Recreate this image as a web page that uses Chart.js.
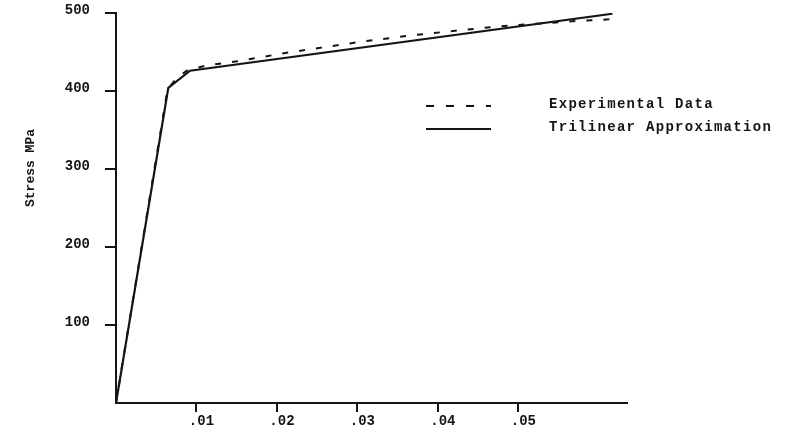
<!DOCTYPE html>
<html lang="en">
<head>
    <meta charset="UTF-8">
    <title>Stress-Strain</title>
    <script src="https://cdn.jsdelivr.net/npm/chart.js"></script>
    <style>
        body {
            margin: 0;
            background-color: #ffffff;
            overflow: hidden;
        }

        canvas {
            display: block;
        }
    </style>
</head>
<body>
    <canvas id="stressChart" width="794" height="429"></canvas>

    <script>
        // values
        const strainExp = [0, 0.0064, 0.0075, 0.0088, 0.0113, 0.015, 0.0212, 0.0303, 0.0365, 0.0419, 0.0477, 0.0576, 0.0616];
        const stressExp = [0, 402, 416, 426, 433, 438, 449, 463, 471, 477, 483, 490, 492];
        const strainTri = [0, 0.0065, 0.0092, 0.0617];
        const stressTri = [0, 404, 426, 499];

        const xTicks = [0.01, 0.02, 0.03, 0.04, 0.05];
        const xTickLabels = ['.01', '.02', '.03', '.04', '.05'];
        const yTicks = [100, 200, 300, 400, 500];
        const yTitle = 'Stress MPa';

        const ink = '#151515';
        const monoFont = { family: '"Liberation Mono", "DejaVu Sans Mono", monospace', size: 14, weight: 'bold' };

        const toPoints = (xs, ys) => xs.map((x, i) => ({ x: x, y: ys[i] }));

        // legend drawn inside the plot, to the right of the curves
        const insideLegend = {
            id: 'insideLegend',
            afterDraw(chart) {
                const ctx = chart.ctx;
                const rows = [104, 127];
                ctx.save();
                chart.data.datasets.forEach((ds, i) => {
                    const y = rows[i];
                    ctx.strokeStyle = ds.borderColor;
                    ctx.lineWidth = 2;
                    ctx.setLineDash(ds.borderDash ? [8, 12] : []);
                    ctx.beginPath();
                    ctx.moveTo(426, y + 2);
                    ctx.lineTo(491, y + 2);
                    ctx.stroke();
                    ctx.setLineDash([]);
                    ctx.fillStyle = ink;
                    ctx.font = 'bold 14px "Liberation Mono", monospace';
                    ctx.letterSpacing = '1.3px';
                    ctx.textAlign = 'left';
                    ctx.textBaseline = 'middle';
                    ctx.fillText(ds.label, 549, y);
                });
                ctx.restore();
            }
        };

        // vertical axis title, sits higher than the axis middle in the original
        const axisTitle = {
            id: 'axisTitle',
            afterDraw(chart) {
                const ctx = chart.ctx;
                ctx.save();
                ctx.translate(31, 168);
                ctx.rotate(-Math.PI / 2);
                ctx.fillStyle = ink;
                ctx.font = 'bold 13px "Liberation Mono", monospace';
                ctx.textAlign = 'center';
                ctx.textBaseline = 'middle';
                ctx.fillText(yTitle, 0, 0);
                ctx.restore();
            }
        };

        const stressCtx = document.getElementById('stressChart').getContext('2d');

        const stressChart = new Chart(stressCtx, {
            type: 'line',
            data: {
                datasets: [
                    {
                        label: 'Experimental Data',
                        data: toPoints(strainExp, stressExp),
                        borderColor: ink,
                        borderWidth: 2,
                        borderDash: [6, 11],
                        pointRadius: 0,
                        fill: false,
                    },
                    {
                        label: 'Trilinear Approximation',
                        data: toPoints(strainTri, stressTri),
                        borderColor: ink,
                        borderWidth: 2.2,
                        pointRadius: 0,
                        fill: false,
                    },
                ],
            },
            options: {
                responsive: false,
                animation: false,
                layout: { padding: { left: 0, top: 13, right: 167, bottom: 0 } },
                scales: {
                    x: {
                        type: 'linear',
                        min: 0,
                        max: 0.0635,
                        border: { display: true, color: ink, width: 2 },
                        grid: { drawOnChartArea: false, drawTicks: true, tickLength: 9, color: ink, lineWidth: 2 },
                        afterBuildTicks: (scale) => { scale.ticks = xTicks.map(v => ({ value: v })); },
                        afterFit: (scale) => {
                            scale.height = 26;
                            scale.paddingLeft = 0;
                            scale.paddingRight = 0;
                        },
                        ticks: {
                            color: ink,
                            font: monoFont,
                            padding: 1,
                            labelOffset: 5,
                            maxRotation: 0,
                            callback: (value, index) => xTickLabels[index],
                        },
                    },
                    y: {
                        type: 'linear',
                        min: 0,
                        max: 500,
                        border: { display: true, color: ink, width: 2 },
                        grid: { drawOnChartArea: false, drawTicks: true, tickLength: 11, color: ink, lineWidth: 2 },
                        afterBuildTicks: (scale) => { scale.ticks = yTicks.map(v => ({ value: v })); },
                        afterFit: (scale) => {
                            scale.width = 116;
                            scale.paddingTop = 0;
                            scale.paddingBottom = 0;
                        },
                        ticks: {
                            color: ink,
                            font: monoFont,
                            padding: 15,
                            labelOffset: -3,
                        },
                    },
                },
                plugins: {
                    legend: { display: false },
                    tooltip: { enabled: false },
                },
            },
            plugins: [insideLegend, axisTitle],
        });
    </script>
</body>
</html>
